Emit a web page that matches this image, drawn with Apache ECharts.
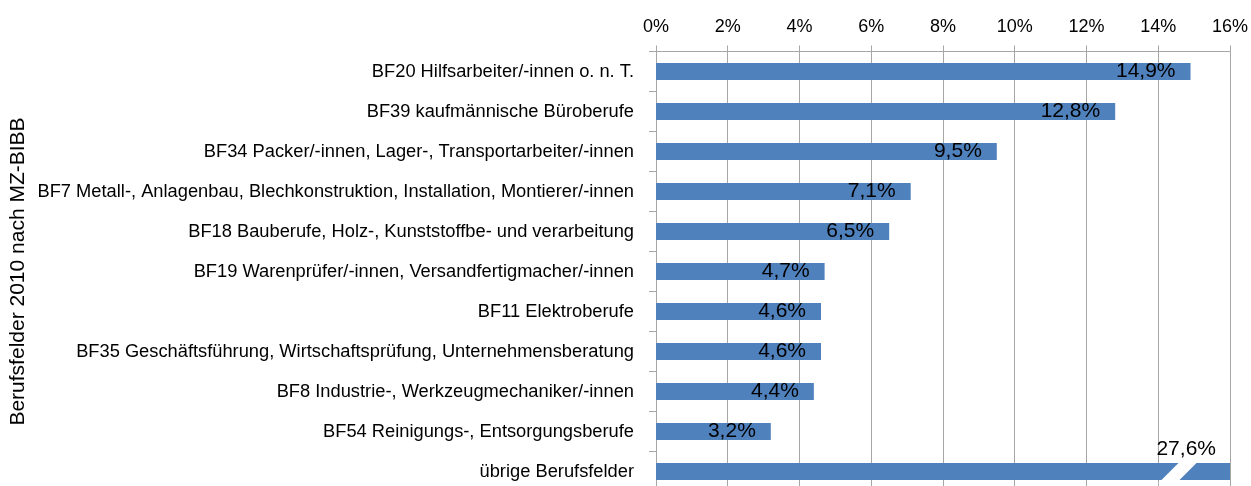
<!DOCTYPE html>
<html><head><meta charset="utf-8">
<script src="https://cdn.jsdelivr.net/npm/echarts@6/dist/echarts.min.js"></script>
<style>html,body{margin:0;padding:0;background:#fff;overflow:hidden}#c{width:1251px;height:492px}</style>
</head><body><div id="c"></div>
<script>
const categories = [
  'BF20 Hilfsarbeiter/-innen o. n. T.',
  'BF39 kaufmännische Büroberufe',
  'BF34 Packer/-innen, Lager-, Transportarbeiter/-innen',
  'BF7 Metall-, Anlagenbau, Blechkonstruktion, Installation, Montierer/-innen',
  'BF18 Bauberufe, Holz-, Kunststoffbe- und verarbeitung',
  'BF19 Warenprüfer/-innen, Versandfertigmacher/-innen',
  'BF11 Elektroberufe',
  'BF35 Geschäftsführung, Wirtschaftsprüfung, Unternehmensberatung',
  'BF8 Industrie-, Werkzeugmechaniker/-innen',
  'BF54 Reinigungs-, Entsorgungsberufe',
  'übrige Berufsfelder'
];
const values = [14.9, 12.8, 9.5, 7.1, 6.5, 4.7, 4.6, 4.6, 4.4, 3.2, 27.6];
const axisMin = 0, axisMax = 16, axisStep = 2;
const axisTitle = 'Berufsfelder 2010 nach MZ-BIBB';

const FONT = 'Liberation Sans';
const fmt = v => v.toFixed(1).replace('.', ',') + '%';
const grey = '#A6A6A6';

const barData = values.map((v, i) => {
  const item = { value: v };
  if (v > axisMax) {
    item.label = {
      position: ['100%', 0], align: 'right', verticalAlign: 'bottom', offset: [-14, -3]
    };
  }
  return item;
});
const breakData = values.map((v, i) => v > axisMax ? [axisMax, i] : null).filter(Boolean);

const chart = echarts.init(document.getElementById('c'));
chart.setOption({
  animation: false,
  textStyle: { fontFamily: FONT },
  grid: { left: 656, right: 18, top: 51.5, bottom: 0.5, containLabel: false },
  xAxis: {
    type: 'value', position: 'top', min: axisMin, max: axisMax, interval: axisStep,
    axisLine: { show: true, lineStyle: { color: grey, width: 1 } },
    axisTick: { show: true, length: 6, lineStyle: { color: grey } },
    splitLine: { show: true, lineStyle: { color: grey, width: 1 } },
    axisLabel: { formatter: v => v + '%', color: '#000', fontSize: 18, margin: 15, fontFamily: FONT }
  },
  yAxis: {
    type: 'category', inverse: true, data: categories,
    name: axisTitle, nameLocation: 'middle', nameRotate: 90, nameGap: 627,
    nameTextStyle: { fontSize: 21, color: '#000', fontFamily: FONT },
    axisLine: { show: true, lineStyle: { color: grey, width: 1 } },
    axisTick: { show: true, length: 7, lineStyle: { color: grey } },
    axisLabel: { color: '#000', fontSize: 18.3, margin: 22, fontFamily: FONT }
  },
  series: [{
    type: 'bar', data: barData, barWidth: 17, clip: true,
    itemStyle: { color: '#4F81BD' },
    label: {
      show: true, position: 'insideRight', distance: 15, color: '#000', fontSize: 21,
      fontFamily: FONT, formatter: p => fmt(p.value)
    }
  }, {
    type: 'custom', z: 5, data: breakData, silent: true,
    renderItem: (params, api) => {
      const p = api.coord([api.value(0), api.value(1)]);
      const h = api.size([0, 1])[1] * 0.5;
      const x = p[0], y = p[1];
      return {
        type: 'polygon',
        shape: { points: [[x - 72, y + h / 2 + 2], [x - 54, y + h / 2 + 2], [x - 30, y - h / 2 - 2], [x - 48, y - h / 2 - 2]] },
        style: { fill: '#fff' }
      };
    }
  }]
});
</script></body></html>
